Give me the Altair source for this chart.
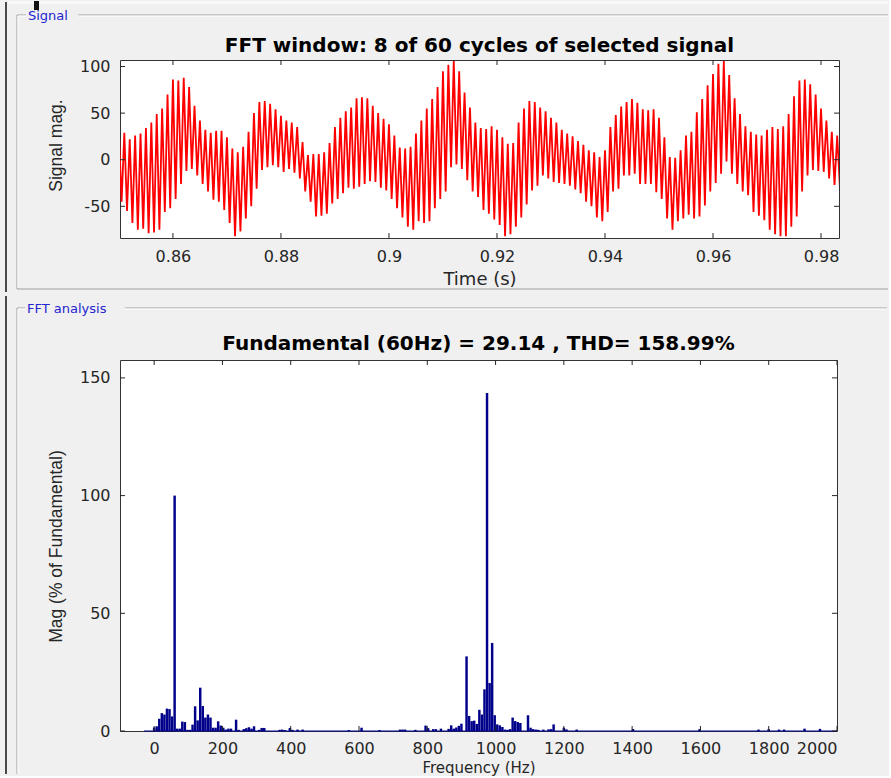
import altair as alt
import pandas as pd

# ---------------- data ----------------
# time-domain signal: per-cycle peak (upper) and trough (lower) values,
# one oscillation cycle per millisecond starting at 0.850 s
t_start = 0.850
t_step = 0.001
upper = [30, 29, 22, 26, 28, 34, 40, 49, 55, 70,
         86, 85, 88, 78, 58, 42, 32, 29, 31, 31,
         24, 12, 8, 14, 30, 50, 62, 63, 60, 54,
         47, 42, 40, 35, 19, 5, 6, 6, 8, 18,
         35, 45, 52, 56, 66, 67, 66, 58, 50, 44,
         38, 26, 13, 12, 14, 28, 42, 55, 65, 78,
         95, 102, 106, 95, 72, 56, 40, 34, 33, 36,
         32, 24, 17, 18, 40, 55, 63, 62, 56, 52,
         45, 40, 32, 28, 25, 20, 16, 10, 8, 3,
         10, 35, 48, 57, 62, 65, 61, 54, 53, 54,
         45, 24, 3, 2, 10, 26, 30, 51, 65, 80,
         92, 103, 106, 91, 66, 49, 36, 30, 27, 26,
         32, 35, 33, 36, 49, 68, 85, 86, 81, 70,
         55, 42, 30, 26]
lower = [-45, -55, -68, -75, -74, -79, -78, -75, -56, -52,
         -42, -26, -12, -10, -17, -26, -34, -43, -45, -54,
         -68, -82, -77, -63, -50, -31, -11, -8, -6, -8,
         -13, -10, -14, -20, -34, -45, -61, -60, -58, -47,
         -42, -36, -30, -31, -29, -26, -23, -24, -30, -33,
         -42, -52, -62, -72, -75, -66, -68, -66, -52, -42,
         -34, -8, -5, -10, -22, -34, -40, -54, -58, -64,
         -70, -82, -80, -72, -62, -48, -33, -28, -17, -20,
         -24, -25, -26, -28, -32, -36, -45, -50, -62, -66,
         -56, -34, -31, -17, -17, -15, -26, -26, -26, -35,
         -42, -63, -75, -66, -63, -59, -63, -61, -49, -34,
         -25, -15, -2, -15, -26, -34, -38, -56, -60, -65,
         -75, -80, -82, -82, -72, -61, -34, -17, -11, -12,
         -13, -20, -27, -30]

time_ticks = [0.86, 0.88, 0.90, 0.92, 0.94, 0.96, 0.98]
sig_ticks = [-50, 0, 50, 100]

# FFT spectrum (Hz, % of fundamental)
freq = [0, 7.5, 15, 22.5, 30, 37.5, 45, 52.5, 60, 67.5, 75, 82.5, 90, 97.5, 105,
        112.5, 120, 127.5, 135, 142.5, 150, 157.5, 165, 172.5, 180, 187.5, 195,
        202.5, 210, 217.5, 225, 240, 247.5, 262.5, 270, 277.5, 285, 292.5, 307.5,
        315, 322.5, 367.5, 375, 382.5, 397.5, 405, 420, 435, 570, 607.5, 660,
        720, 727.5, 735, 765, 795, 802.5, 817.5, 825, 840, 862.5, 870, 877.5,
        885, 892.5, 900, 915, 922.5, 930, 937.5, 945, 952.5, 960, 967.5, 975,
        982.5, 990, 997.5, 1005, 1012.5, 1020, 1027.5, 1035, 1042.5, 1050,
        1057.5, 1065, 1072.5, 1095, 1102.5, 1110, 1117.5, 1125, 1140, 1155,
        1162.5, 1170, 1200, 1207.5, 1237.5, 1402.5, 1597.5, 1770, 1800, 1830,
        1845, 1905, 1950]
mag = [1.5, 2.0, 5.2, 7.6, 7.0, 9.5, 9.3, 6.2, 100, 1.0, 1.0, 4.0, 3.8, 0.5, 0.5,
       2.7, 10.5, 4.5, 18.4, 10.6, 5.7, 7.0, 5.7, 1.4, 1.4, 4.1, 2.3,
       1.4, 0.6, 1.0, 1.0, 4.8, 0.5, 0.8, 1.2, 1.6, 1.0, 2.0, 0.5,
       1.3, 1.3, 0.5, 0.6, 0.4, 1.3, 0.5, 0.6, 0.6, 0.4, 1.4, 0.4,
       0.6, 0.6, 0.6, 0.5, 2.3, 1.2, 0.8, 0.8, 1.0, 0.9, 2.4, 1.0,
       1.5, 2.2, 3.1, 31.7, 6.4, 4.2, 4.4, 3.0, 9.0, 7.0, 17.7, 143.6,
       20.4, 37.4, 6.7, 2.8, 2.4, 1.7, 0.6, 0.5, 0.8, 5.7,
       4.2, 3.8, 3.4, 6.7, 1.4, 0.8, 0.6, 0.5, 0.6, 0.7,
       0.8, 2.8, 1.4, 0.7, 0.6, 0.8, 0.8, 0.6, 0.8, 0.6,
       0.6, 1.0, 0.9]
freq_ticks = [0, 200, 400, 600, 800, 1000, 1200, 1400, 1600, 1800, 2000]
mag_ticks = [0, 50, 100, 150]

title_top = "FFT window: 8 of 60 cycles of selected signal"
title_bottom = "Fundamental (60Hz) = 29.14 , THD= 158.99%"

# ---------------- tables ----------------
rows = []
for i, (u, l) in enumerate(zip(upper, lower)):
    rows.append({"t": t_start + i * t_step, "v": u})
    rows.append({"t": t_start + (i + 0.5) * t_step, "v": l})
sig = pd.DataFrame(rows)
spec = pd.DataFrame({"f": freq, "mag": mag})
one = pd.DataFrame({"k": [0]})

AX = "#262626"
FRAME = "#a0a0a0"
EDGE = "#4a4a4a"
PANEL_TXT = "#2424d0"
NAVY = "#00008b"
LBL_FONT = "DejaVu Sans"


def vline(x, y1, y2, color, w=1):
    return alt.Chart(one).mark_rule(color=color, strokeWidth=w).encode(
        x=alt.value(x), y=alt.value(y1), y2=alt.value(y2))


def hline(y, x1, x2, color, w=1):
    return alt.Chart(one).mark_rule(color=color, strokeWidth=w).encode(
        y=alt.value(y), x=alt.value(x1), x2=alt.value(x2))


def label(x, y, txt, size, color, weight="normal", align="left", font=LBL_FONT,
          baseline="middle"):
    return alt.Chart(one).mark_text(
        font=font, fontSize=size, fontWeight=weight, color=color, align=align,
        baseline=baseline).encode(x=alt.value(x), y=alt.value(y), text=alt.value(txt))


def inward_ticks(df, field, scale, axis, channel, length, W, H):
    if channel == "x":
        enc = dict(x=alt.X(field, scale=scale, axis=axis))
        a = alt.Chart(df).mark_rule(color=AX, strokeWidth=1).encode(
            y=alt.value(H), y2=alt.value(H - length), **enc)
        b = alt.Chart(df).mark_rule(color=AX, strokeWidth=1).encode(
            y=alt.value(0), y2=alt.value(length), **enc)
    else:
        enc = dict(y=alt.Y(field, scale=scale, axis=axis))
        a = alt.Chart(df).mark_rule(color=AX, strokeWidth=1).encode(
            x=alt.value(0), x2=alt.value(length), **enc)
        b = alt.Chart(df).mark_rule(color=AX, strokeWidth=1).encode(
            x=alt.value(W), x2=alt.value(W - length), **enc)
    return [a, b]


neg_expr = "datum.value < 0 ? '-' + format(-datum.value, 'd') : format(datum.value, 'd')"

# ---------------- top panel: signal ----------------
W1, H1 = 719, 178
xs1 = alt.Scale(domain=[0.8502, 0.98333], nice=False, zero=False)
ys1 = alt.Scale(domain=[-84, 107], nice=False, zero=False)
ax_x1 = alt.Axis(values=time_ticks, format=".2~f", title="Time (s)",
                 labelPadding=10, titleX=W1 / 2, titleY=41,
                 titleBaseline="middle", titleFont=LBL_FONT,
                 titleFontSize=18, titleFontWeight="normal")
ax_y1 = alt.Axis(values=sig_ticks, labelExpr=neg_expr, title="Signal mag.",
                 labelPadding=10, titleX=-64, titleY=85,
                 titleBaseline="middle", titleAlign="center",
                 titleFont="Liberation Sans", titleFontSize=17.5,
                 titleFontWeight="normal")

sig_line = alt.Chart(sig).mark_line(color="#ff0000", strokeWidth=1.8, clip=True).encode(
    x=alt.X("t:Q", scale=xs1, axis=ax_x1),
    y=alt.Y("v:Q", scale=ys1, axis=ax_y1),
)

top_layers = [sig_line]
top_layers += inward_ticks(pd.DataFrame({"t": time_ticks}), "t:Q", xs1, ax_x1, "x", 5, W1, H1)
top_layers += inward_ticks(pd.DataFrame({"v": sig_ticks}), "v:Q", ys1, ax_y1, "y", 5, W1, H1)
top_layers += [
    # window edge and top strip
    alt.Chart(one).mark_rect(color="#f9f9f9").encode(
        x=alt.value(-112), x2=alt.value(768), y=alt.value(-59), y2=alt.value(-56)),
    vline(-114, -58, 232, EDGE, 2),
    alt.Chart(one).mark_rect(color="#111111").encode(
        x=alt.value(-86), x2=alt.value(-81), y=alt.value(-59), y2=alt.value(-50)),
    # etched panel frame
    hline(-45, -103, -94, FRAME), hline(-44, -102, -94, "white"),
    hline(-45, -42, 768, FRAME), hline(-44, -42, 768, "white"),
    vline(-103, -45, 229, FRAME), vline(-102, -44, 228, "white"),
    hline(229, -103, 768, FRAME),
    label(-92, -44, "Signal", 13, PANEL_TXT),
    label(W1 / 2, -8, title_top, 20, "black", weight="bold", align="center",
          baseline="alphabetic"),
]
top = alt.layer(*top_layers).properties(width=W1, height=H1)

# ---------------- bottom panel: FFT ----------------
W2, H2 = 717, 371
xs2 = alt.Scale(domain=[-100, 2000], nice=False, zero=False)
ys2 = alt.Scale(domain=[0, 157.6], nice=False, zero=False)
ax_x2 = alt.Axis(values=freq_ticks, format="d", title="Frequency (Hz)",
                 labelPadding=9, titleX=W2 / 2, titleY=36,
                 titleBaseline="middle", titleFont=LBL_FONT,
                 titleFontSize=15, titleFontWeight="normal")
ax_y2 = alt.Axis(values=mag_ticks, format="d", title="Mag (% of Fundamental)",
                 labelPadding=10, titleX=-64, titleY=186,
                 titleBaseline="middle", titleAlign="center",
                 titleFont="Liberation Sans", titleFontSize=17.5,
                 titleFontWeight="normal")

bars = alt.Chart(spec).transform_calculate(
    f0="datum.f - 3.6", f1="datum.f + 3.6"
).mark_rect(color=NAVY).encode(
    x=alt.X("f0:Q", scale=xs2, axis=ax_x2),
    x2="f1:Q",
    y=alt.Y("mag:Q", scale=ys2, axis=ax_y2),
    y2=alt.datum(0),
)
base_df = pd.DataFrame({"f0": [-30], "f1": [2000], "mag": [0]})
baseline = alt.Chart(base_df).mark_rule(color=NAVY, strokeWidth=1).encode(
    x=alt.X("f0:Q", scale=xs2, axis=ax_x2), x2="f1:Q",
    y=alt.Y("mag:Q", scale=ys2, axis=ax_y2))

bot_layers = [bars, baseline]
bot_layers += inward_ticks(pd.DataFrame({"f0": freq_ticks}), "f0:Q", xs2, ax_x2, "x", 5, W2, H2)
bot_layers += inward_ticks(pd.DataFrame({"mag": mag_ticks}), "mag:Q", ys2, ax_y2, "y", 5, W2, H2)
bot_layers += [
    vline(-114, -64, 414, EDGE, 2),
    hline(-52, -103, -95, FRAME), hline(-51, -102, -95, "white"),
    hline(-52, 5, 767, FRAME), hline(-51, 5, 767, "white"),
    vline(-103, -52, 414, FRAME), vline(-102, -51, 414, "white"),
    label(-93, -51, "FFT analysis", 13, PANEL_TXT),
    label(W2 / 2, -10, title_bottom, 20, "black", weight="bold", align="center",
          baseline="alphabetic"),
]
bottom = alt.layer(*bot_layers).properties(width=W2, height=H2)

chart = alt.vconcat(top, bottom, spacing=0).properties(
    padding={"left": 4, "top": 0, "right": 0, "bottom": 0}
).configure(background="#f0f0f0").configure_view(
    fill="white", stroke="#333333", strokeWidth=1
).configure_axis(
    domain=False, ticks=False, grid=False, labelFont=LBL_FONT, labelFontSize=16,
    labelColor=AX, titleColor=AX
)

chart.save("out.html", embed_options={"renderer": "svg", "actions": False})
